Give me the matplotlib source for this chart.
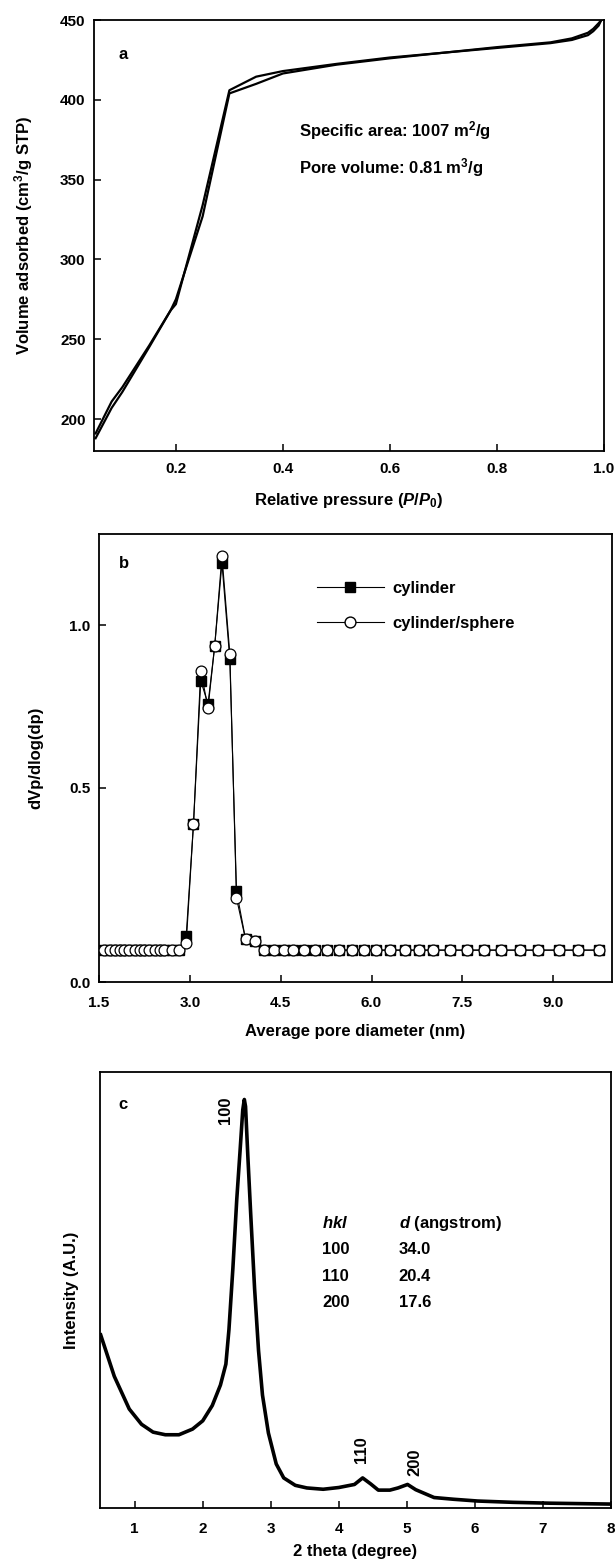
import matplotlib
matplotlib.use("Agg")
import matplotlib.pyplot as plt
from matplotlib.lines import Line2D

plt.rcParams['font.family'] = ['Liberation Sans', 'DejaVu Sans']
plt.rcParams['font.weight'] = 'bold'
plt.rcParams['font.size'] = 12
plt.rcParams['mathtext.fontset'] = 'custom'
plt.rcParams['mathtext.rm'] = 'Liberation Sans:bold'
plt.rcParams['mathtext.it'] = 'Liberation Sans:italic:bold'
plt.rcParams['mathtext.bf'] = 'Liberation Sans:bold'
plt.rcParams['axes.linewidth'] = 1.3

# (a) N2 isotherm
ads_p = [0.05, 0.08, 0.10, 0.15, 0.19, 0.20, 0.25, 0.30, 0.35, 0.40, 0.50, 0.60,
         0.70, 0.80, 0.90, 0.94, 0.97, 0.98, 0.99, 0.995]
ads_v = [188, 207, 217, 245, 268, 275, 327, 404, 410, 416.5, 422, 426,
         429.5, 432.5, 435.5, 437.5, 440.5, 443, 446.5, 450]
des_p = [0.995, 0.99, 0.98, 0.97, 0.94, 0.90, 0.80, 0.70, 0.60, 0.50, 0.40, 0.35,
         0.30, 0.25, 0.20, 0.19, 0.15, 0.10, 0.08, 0.05]
des_v = [450, 448, 444.5, 442, 438.5, 436, 433, 429.5, 426.5, 422.5, 418, 414.5,
         406, 334, 272, 268, 246, 220, 211, 191]

# (b) pore size distribution
pore_d = [1.59, 1.68, 1.76, 1.84, 1.92, 2.00, 2.09, 2.17, 2.25, 2.33, 2.42, 2.50,
          2.58, 2.70, 2.82, 2.94, 3.06, 3.18, 3.30, 3.41, 3.53, 3.66, 3.77, 3.92,
          4.08, 4.23, 4.39, 4.55, 4.71, 4.88, 5.07, 5.27, 5.46, 5.67, 5.87, 6.07,
          6.31, 6.55, 6.79, 7.02, 7.29, 7.58, 7.86, 8.14, 8.45, 8.75, 9.09, 9.41, 9.75]
cylinder = [0.0, 0.0, 0.0, 0.0, 0.0, 0.0, 0.0, 0.0, 0.0, 0.0, 0.0, 0.0,
            0.0, 0.0, 0.0, 0.045, 0.388, 0.829, 0.757, 0.935, 1.190, 0.894, 0.182, 0.033,
            0.028, 0.0, 0.0, 0.0, 0.0, 0.0, 0.0, 0.0, 0.0, 0.0, 0.0, 0.0,
            0.0, 0.0, 0.0, 0.0, 0.0, 0.0, 0.0, 0.0, 0.0, 0.0, 0.0, 0.0, 0.0]
sphere = [0.0, 0.0, 0.0, 0.0, 0.0, 0.0, 0.0, 0.0, 0.0, 0.0, 0.0, 0.0,
          0.0, 0.0, 0.0, 0.022, 0.388, 0.860, 0.745, 0.935, 1.212, 0.912, 0.160, 0.033,
          0.028, 0.0, 0.0, 0.0, 0.0, 0.0, 0.0, 0.0, 0.0, 0.0, 0.0, 0.0,
          0.0, 0.0, 0.0, 0.0, 0.0, 0.0, 0.0, 0.0, 0.0, 0.0, 0.0, 0.0, 0.0]

# (c) XRD pattern
theta2 = [0.50, 0.70, 0.92, 1.10, 1.27, 1.45, 1.65, 1.85, 2.00, 2.14, 2.26, 2.34,
          2.385, 2.443, 2.50, 2.548, 2.588, 2.611, 2.629, 2.664, 2.704, 2.762, 2.82,
          2.878, 2.965, 3.08, 3.19, 3.36, 3.53, 3.77, 4.00, 4.23, 4.35, 4.47, 4.58,
          4.75, 4.87, 5.01, 5.13, 5.25, 5.40, 5.69, 6.04, 6.56, 7.11, 8.00]
intensity = [39.7, 30.2, 22.7, 19.2, 17.4, 16.8, 16.8, 18.1, 20.0, 23.5, 28.2, 33.0,
             40.9, 55.0, 70.8, 81.8, 91.3, 93.7, 92.1, 80.3, 67.7, 50.3, 36.1,
             25.9, 17.2, 10.1, 6.9, 5.2, 4.6, 4.3, 4.7, 5.4, 6.9, 5.5, 4.1,
             4.1, 4.6, 5.4, 4.2, 3.4, 2.4, 2.0, 1.6, 1.3, 1.1, 0.9]
peak_hkl = ['100', '110', '200']
peak_pos = [2.33, 4.335, 5.12]
peak_lab_y = [91.3, 13.4, 10.6]
d_spacing = ['34.0', '20.4', '17.6']
row_y = [59.4, 53.2, 47.2]

W, H = 616, 1561
fig = plt.figure(figsize=(W / 100, H / 100), dpi=100)


def axes_px(l, r, t, b):
    return fig.add_axes([l / W, 1 - b / H, (r - l) / W, (b - t) / H])


def style(ax, xpad, ypad):
    ax.tick_params(direction='in', length=5, width=1.1, labelsize=11)
    ax.tick_params(axis='x', pad=xpad)
    ax.tick_params(axis='y', pad=ypad)
    for lab in ax.get_xticklabels() + ax.get_yticklabels():
        lab.set_fontweight('bold')


# ---- a ----
ax1 = axes_px(94, 604, 20, 451)
ax1.plot(ads_p, ads_v, color='black', lw=1.6)
ax1.plot(des_p, des_v, color='black', lw=1.6)
ax1.set_xlim(0.047, 1.0)
ax1.set_ylim(180, 450)
ax1.set_xticks([0.2, 0.4, 0.6, 0.8, 1.0])
ax1.set_xticklabels(['0.2', '0.4', '0.6', '0.8', '1.0'])
ax1.set_yticks([200, 250, 300, 350, 400, 450])
ax1.set_xlabel('Relative pressure ($P$/$P_0$)', fontweight='bold')
ax1.set_ylabel('Volume adsorbed (cm$^3$/g STP)', fontweight='bold')
ax1.xaxis.set_label_coords(0.5, -0.092)
ax1.yaxis.set_label_coords(-0.115, 0.5)
ax1.text(0.101, 428.6, 'a', ha='center', va='center', fontweight='bold')
ax1.text(0.431, 380.8, 'Specific area: 1007 m$^2$/g', va='center', fontweight='bold')
ax1.text(0.431, 357.6, 'Pore volume: 0.81 m$^3$/g', va='center', fontweight='bold')
style(ax1, 8, 6)

# ---- b ----
ax2 = axes_px(99, 612, 534, 982)
ax2.plot(pore_d, cylinder, color='black', lw=0.8, marker='s', ms=6.5,
         mfc='black', mec='black', label='cylinder', zorder=2)
ax2.plot(pore_d, sphere, color='black', lw=0.8, marker='o', ms=7.8,
         mfc='white', mec='black', mew=0.9, label='cylinder/sphere', zorder=3)
ax2.set_xlim(1.5, 9.97)
ax2.set_ylim(-0.098, 1.28)
ax2.set_xticks([1.5, 3.0, 4.5, 6.0, 7.5, 9.0])
ax2.set_xticklabels(['1.5', '3.0', '4.5', '6.0', '7.5', '9.0'])
ax2.set_yticks([-0.098, 0.5, 1.0])
ax2.set_yticklabels(['0.0', '0.5', '1.0'])
ax2.set_xlabel('Average pore diameter (nm)', fontweight='bold')
ax2.set_ylabel('dVp/dlog(dp)', fontweight='bold')
ax2.xaxis.set_label_coords(0.5, -0.094)
ax2.yaxis.set_label_coords(-0.109, 0.5)
ax2.text(1.91, 1.19, 'b', ha='center', va='center', fontweight='bold')
handles = [Line2D([], [], color='black', lw=0.8, marker='s', ms=6.5, mfc='black', mec='black'),
           Line2D([], [], color='black', lw=0.8, marker='o', ms=7.8, mfc='white', mec='black')]
ax2.legend(handles, ['cylinder', 'cylinder/sphere'], loc='upper left',
           bbox_to_anchor=(5.1, 1.135), bbox_transform=ax2.transData,
           frameon=False, borderpad=0, borderaxespad=0, handlelength=4.0,
           handletextpad=0.55, labelspacing=1.2, prop={'weight': 'bold', 'size': 12})
style(ax2, 10, 6)

# ---- c ----
ax3 = axes_px(100, 611, 1072, 1508)
ax3.plot(theta2, intensity, color='black', lw=2.6, solid_joinstyle='round')
ax3.set_xlim(0.49, 8.0)
ax3.set_ylim(0, 100)
ax3.set_xticks([1, 2, 3, 4, 5, 6, 7, 8])
ax3.set_yticks([])
ax3.set_xlabel('2 theta (degree)', fontweight='bold')
ax3.set_ylabel('Intensity (A.U.)', fontweight='bold')
ax3.xaxis.set_label_coords(0.5, -0.082)
ax3.yaxis.set_label_coords(-0.041, 0.5)
ax3.text(0.83, 92.5, 'c', ha='center', va='center', fontweight='bold')
for lab, xp, yp in zip(peak_hkl, peak_pos, peak_lab_y):
    ax3.text(xp, yp, lab, rotation=90, ha='center', va='center', fontweight='bold')
ax3.text(3.755, 65.3, '$hkl$', va='center', fontweight='bold')
ax3.text(4.88, 65.3, '$d$ (angstrom)', va='center', fontweight='bold')
for lab, dv, yr in zip(peak_hkl, d_spacing, row_y):
    ax3.text(3.755, yr, lab, va='center', fontweight='bold')
    ax3.text(4.88, yr, dv, va='center', fontweight='bold')
style(ax3, 10, 6)

fig.savefig('out.png', dpi=100)
